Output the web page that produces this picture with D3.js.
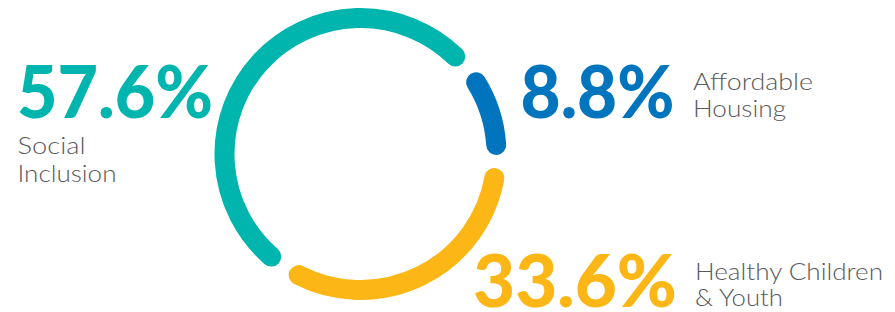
<!DOCTYPE html>
<html>
<head>
<meta charset="utf-8">
<script src="https://cdn.jsdelivr.net/npm/d3@7"></script>
<style>
  html, body { margin: 0; padding: 0; background: #fff; }
  svg { display: block; }
</style>
</head>
<body>
<svg id="chart" width="895" height="312"></svg>
<script>
// ---- data ----
const categories = ["Affordable Housing", "Healthy Children & Youth", "Social Inclusion"];
const values = [8.8, 33.6, 57.6];
const valueLabels = ["8.8%", "33.6%", "57.6%"];
const labelLines = [["Affordable", "Housing"], ["Healthy Children", "& Youth"], ["Social", "Inclusion"]];
const colors = ["#0075be", "#fcb716", "#00b5ad"];

// ---- layout ----
const svg = d3.select("#chart");
const cx = 360.5, cy = 154, r = 136, ringW = 20;
const deg = Math.PI / 180;
const pad = 14 * deg;
const start = 51.2 * deg;

const pie = d3.pie().sort(null).value(d => d)
  .startAngle(start).endAngle(start + 2 * Math.PI).padAngle(pad);
const arcs = pie(values);

const g = svg.append("g").attr("transform", `translate(${cx},${cy})`);
g.selectAll("path.seg").data(arcs).join("path")
  .attr("class", "seg")
  .attr("d", d => {
    const p = d3.path();
    const a0 = d.startAngle + d.padAngle / 2 - Math.PI / 2;
    const a1 = d.endAngle - d.padAngle / 2 - Math.PI / 2;
    p.moveTo(r * Math.cos(a0), r * Math.sin(a0));
    p.arc(0, 0, r, a0, a1);
    return p.toString();
  })
  .attr("fill", "none")
  .attr("stroke", (d, i) => colors[i])
  .attr("stroke-width", ringW)
  .attr("stroke-linecap", "round");

// ---- labels ----
const textPos = [
  { vx: 520.5, vy: 118, vw: 154, lx: 693, ly: [90, 117], lw: [120, 93] },
  { vx: 473, vy: 307, vw: 204, lx: 695, ly: [279.5, 306], lw: [188, 88] },
  { vx: 17, vy: 118, vw: 196, lx: 17.5, ly: [154, 181.5], lw: [68, 99] }
];

const labels = svg.append("g");
categories.forEach((c, i) => {
  const p = textPos[i];
  labels.append("text")
    .attr("x", p.vx).attr("y", p.vy)
    .attr("textLength", p.vw).attr("lengthAdjust", "spacingAndGlyphs")
    .attr("font-family", "Lato, 'Open Sans', sans-serif")
    .attr("font-weight", 900)
    .attr("font-size", 72)
    .attr("fill", colors[i])
    .text(valueLabels[i]);
  labelLines[i].forEach((line, j) => {
    labels.append("text")
      .attr("x", p.lx).attr("y", p.ly[j])
      .attr("textLength", p.lw[j]).attr("lengthAdjust", "spacingAndGlyphs")
      .attr("font-family", "Lato, 'Open Sans', sans-serif")
      .attr("font-weight", 300)
      .attr("font-size", 22.5)
      .attr("fill", "#58595b")
      .text(line);
  });
});
</script>
</body>
</html>
